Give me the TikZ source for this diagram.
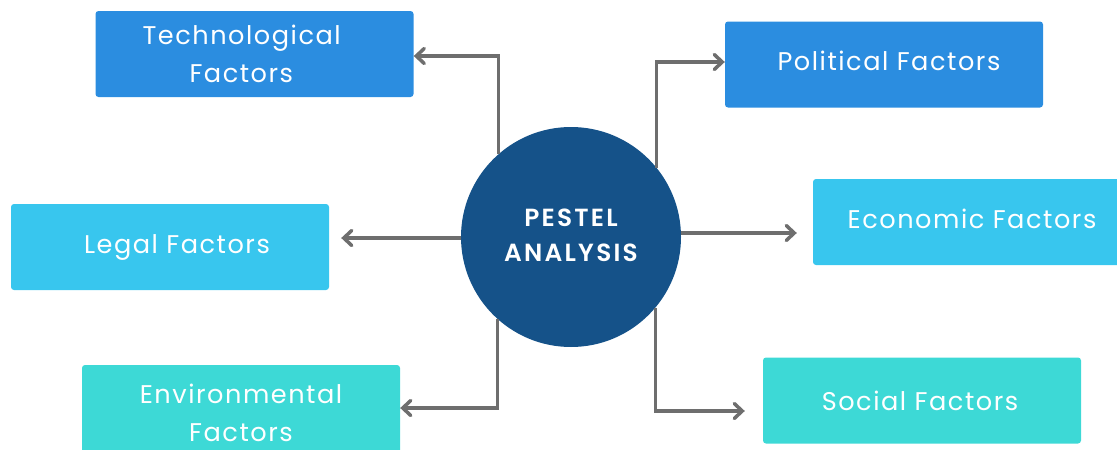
\documentclass[tikz,border=0pt]{standalone}
\usepackage{fontspec}
\setmainfont{Poppins}
\newfontfamily\boxfont[LetterSpace=6]{Poppins}
\newfontfamily\circfont[LetterSpace=9]{Poppins SemiBold}
\usetikzlibrary{arrows.meta}
\definecolor{cBlue}{HTML}{2B8DE0}
\definecolor{cSky}{HTML}{38C6EE}
\definecolor{cTeal}{HTML}{3DD9D6}
\definecolor{cNavy}{HTML}{155289}
\definecolor{cGray}{HTML}{6E6E6E}
\tikzset{
  factor/.style={rounded corners=3pt, minimum width=318pt, minimum height=86pt,
    inner sep=0pt, text=white, align=center, font=\boxfont\fontsize{25.6}{38}\selectfont},
  link/.style={draw=cGray, line width=3.5pt,
    -{Straight Barb[length=8pt,width=15pt,line width=3.5pt,line cap=round]}},
}
\begin{document}
\begin{tikzpicture}[x=1pt,y=-1pt]
\useasboundingbox (0,0) rectangle (1117,450);
\clip (0,0) rectangle (1117,450);
\node[factor, fill=cBlue, text width=290pt, align=left] (tech) at (254.5,54) {\hspace*{33pt}Technological\\\hspace*{80pt}Factors};
\node[factor, fill=cBlue] (pol) at (884,64.5) {\raisebox{8pt}{\hspace*{10pt}Political Factors}};
\node[factor, fill=cSky] (legal) at (170,247) {\raisebox{-3pt}{\hspace*{14pt}Legal Factors}};
\node[factor, fill=cSky] (eco) at (972,222) {\raisebox{6pt}{Economic Factors}};
\node[factor, fill=cTeal, minimum height=96pt] (env) at (241,413) {Environmental\\Factors};
\node[factor, fill=cTeal] (soc) at (922,400.5) {\hspace*{-4pt}Social Factors};
\node[circle, fill=cNavy, minimum size=220pt, inner sep=0pt, text=white, align=center,
  font=\circfont\fontsize{24.8}{35}\selectfont] (c) at (571,237) {PESTEL\\ANALYSIS\\[-31pt]\mbox{}};
\draw[link] (c.131.6) |- ([yshift=-2pt]tech.east);
\draw[link] (c.39.4) |- ([yshift=2.5pt]pol.west);
\draw[link, shorten >=12pt] ([yshift=-1pt]c.west) -- ([yshift=-1pt]c.west -| legal.east);
\draw[link, shorten >=16pt] ([yshift=4pt]c.east) -- ([yshift=4pt]c.east -| eco.west);
\draw[link] (c.228.4) |- ([yshift=5pt]env.east);
\draw[link, shorten >=18pt] (c.320.6) |- ([yshift=-10.5pt]soc.west);
\end{tikzpicture}
\end{document}
